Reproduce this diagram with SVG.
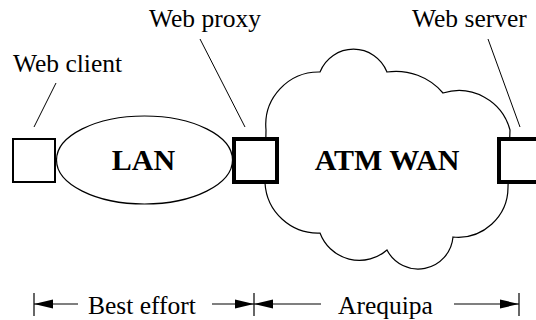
<svg xmlns="http://www.w3.org/2000/svg" width="536" height="320" viewBox="0 0 536 320">
  <style>
    .label { font-family: "Liberation Serif", "Times New Roman", serif; font-size: 25.5px; fill: #000; }
    .net { font-family: "Liberation Serif", "Times New Roman", serif; font-size: 30px; font-weight: bold; fill: #000; }
    .outline { fill: #fff; stroke: #000; stroke-width: 1.2; }
    .host { fill: #fff; stroke: #000; stroke-width: 2; }
    .gateway { fill: #fff; stroke: #000; stroke-width: 4; }
    .leader { stroke: #000; stroke-width: 1; fill: none; }
    .dim { stroke: #000; stroke-width: 1.2; fill: none; }
    .tick { stroke: #000; stroke-width: 1.2; }
  </style>
  <defs>
    <marker id="head" viewBox="0 0 19 10" refX="19" refY="5" markerWidth="19" markerHeight="10" markerUnits="userSpaceOnUse" orient="auto">
      <path d="M0,0.5 L19,5 L0,9.5 Z" fill="#000"/>
    </marker>
  </defs>

  <rect width="536" height="320" fill="#fff"/>

  <!-- ATM wide-area cloud -->
  <g id="atm-wan">
    <path class="outline" d="M266,130 A53,53 0 0 1 320,72 A36,36 0 0 1 387,72 A62,62 0 0 1 443,93 A53,53 0 0 1 510,130 L508,187 A50,50 0 0 1 453,237 A35,35 0 0 1 387,250 A42,42 0 0 1 320,233 A53,53 0 0 1 265,183 Z"/>
    <text class="net" x="387" y="170" text-anchor="middle">ATM WAN</text>
  </g>

  <!-- Local-area network -->
  <g id="lan">
    <ellipse class="outline" cx="144.5" cy="160" rx="88" ry="44"/>
    <text class="net" x="143.5" y="170" text-anchor="middle">LAN</text>
  </g>

  <!-- Hosts -->
  <g id="web-client">
    <rect class="host" x="13" y="139" width="42" height="43"/>
    <text class="label" x="13" y="72">Web client</text>
  </g>
  <g id="web-proxy">
    <rect class="gateway" x="234" y="139" width="43" height="43"/>
    <text class="label" x="149" y="27">Web proxy</text>
  </g>
  <g id="web-server">
    <rect class="gateway" x="499" y="139" width="43" height="43"/>
    <text class="label" x="412" y="27">Web server</text>
  </g>

  <!-- Label leaders -->
  <g id="connectors">
    <line class="leader" x1="56" y1="83" x2="34" y2="127"/>
    <line class="leader" x1="200" y1="39" x2="245" y2="127"/>
    <line class="leader" x1="488" y1="39" x2="520" y2="127"/>
  </g>

  <!-- Service spans along the path -->
  <g id="spans">
    <line class="tick" x1="34" y1="293" x2="34" y2="316"/>
    <line class="tick" x1="254" y1="293" x2="254" y2="316"/>
    <line class="tick" x1="519" y1="293" x2="519" y2="316"/>
    <line class="dim" x1="78" y1="304" x2="34" y2="304" marker-end="url(#head)"/>
    <line class="dim" x1="212" y1="304" x2="254" y2="304" marker-end="url(#head)"/>
    <line class="dim" x1="321" y1="304" x2="254" y2="304" marker-end="url(#head)"/>
    <line class="dim" x1="454" y1="304" x2="519" y2="304" marker-end="url(#head)"/>
    <text class="label" x="88" y="314">Best effort</text>
    <text class="label" x="338" y="314">Arequipa</text>
  </g>
</svg>
